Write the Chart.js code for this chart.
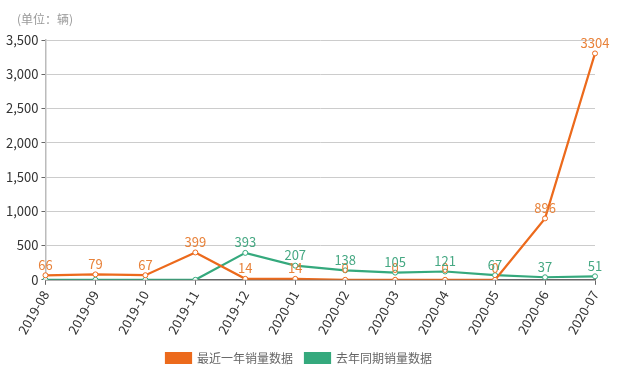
<!DOCTYPE html>
<html>
<head>
<meta charset="utf-8">
<script src="https://cdn.jsdelivr.net/npm/chart.js@4/dist/chart.umd.min.js"></script>
<style>
  html, body { margin: 0; padding: 0; background: #fff; }
  #wrap { width: 619px; height: 387px; position: relative; }
</style>
</head>
<body>
<div id="wrap"><canvas id="salesChart"></canvas></div>
<script>
// chart data
const months = ['2019-08', '2019-09', '2019-10', '2019-11', '2019-12', '2020-01',
                '2020-02', '2020-03', '2020-04', '2020-05', '2020-06', '2020-07'];
const recentYear = [66, 79, 67, 399, 14, 14, 0, 0, 0, 0, 896, 3304];
const lastYear = [0, 0, 0, 0, 393, 207, 138, 105, 121, 67, 37, 51];
const seriesNames = ['最近一年销量数据', '去年同期销量数据'];
const unitLabel = '(单位：辆)';

const ORANGE = '#ec6a1c';
const GREEN = '#35a97d';
const FONT = "'Noto Sans CJK SC', 'Noto Sans', sans-serif";

// unit text in the top left corner
const unitText = {
    id: 'unitText',
    afterDraw(chart) {
        const ctx = chart.ctx;
        ctx.save();
        ctx.font = '12px ' + FONT;
        ctx.fillStyle = '#999';
        ctx.textBaseline = 'middle';
        ctx.fillText(unitLabel, 17, 19);
        ctx.restore();
    }
};

// draws the value labels above each point
const valueLabels = {
    id: 'valueLabels',
    afterDatasetsDraw(chart) {
        const ctx = chart.ctx;
        const zeroY = chart.scales.y.getPixelForValue(0);
        ctx.save();
        ctx.font = '13px ' + FONT;
        ctx.textAlign = 'center';
        ctx.textBaseline = 'bottom';
        chart.data.datasets.forEach((ds, di) => {
            const meta = chart.getDatasetMeta(di);
            ctx.fillStyle = di === 0 ? '#e8823a' : '#46a883';
            meta.data.forEach((pt, i) => {
                const v = ds.data[i];
                if (di === 1 && v === 0) return; // zero labels hidden for this series
                let y = pt.y - 4;
                if (di === 0 && v < 50) y = zeroY - 5;
                ctx.fillText(String(v), pt.x, y);
            });
        });
        ctx.restore();
    }
};

Chart.defaults.font.family = FONT;

new Chart(document.getElementById('salesChart'), {
    type: 'line',
    data: {
        labels: months,
        datasets: [{
            label: seriesNames[0],
            data: recentYear,
            borderColor: ORANGE,
            backgroundColor: ORANGE,
            pointBackgroundColor: '#fff',
            pointBorderColor: ORANGE,
            pointRadius: 2.5,
            pointBorderWidth: 1,
            borderWidth: 2.2,
            tension: 0
        }, {
            label: seriesNames[1],
            data: lastYear,
            borderColor: GREEN,
            backgroundColor: GREEN,
            pointBackgroundColor: '#fff',
            pointBorderColor: GREEN,
            pointRadius: 2.5,
            pointBorderWidth: 1,
            borderWidth: 2.2,
            tension: 0
        }]
    },
    options: {
        responsive: true,
        maintainAspectRatio: false,
        animation: false,
        layout: { padding: { left: 3, right: 24, top: 40, bottom: 13 } },
        plugins: {
            title: { display: false },
            legend: {
                position: 'bottom',
                labels: {
                    boxWidth: 25,
                    boxHeight: 10,
                    color: '#666',
                    font: { size: 12 },
                    padding: 12
                }
            },
            tooltip: { enabled: false }
        },
        scales: {
            x: {
                offset: false,
                grid: {
                    drawOnChartArea: false,
                    drawTicks: true,
                    tickLength: 5,
                    color: '#666'
                },
                border: { color: '#666', width: 1.5 },
                ticks: {
                    color: '#333',
                    font: { size: 13 },
                    minRotation: 60,
                    maxRotation: 60,
                    autoSkip: false,
                    padding: 3
                }
            },
            y: {
                min: 0,
                max: 3500,
                grid: {
                    color: '#ccc',
                    tickLength: 4,
                    tickColor: '#666'
                },
                border: { color: '#bbb', width: 1.5 },
                ticks: {
                    stepSize: 500,
                    color: '#333',
                    font: { size: 13 },
                    padding: 3,
                    callback: v => v.toLocaleString('en-US')
                }
            }
        }
    },
    plugins: [valueLabels, unitText]
});
</script>
</body>
</html>
